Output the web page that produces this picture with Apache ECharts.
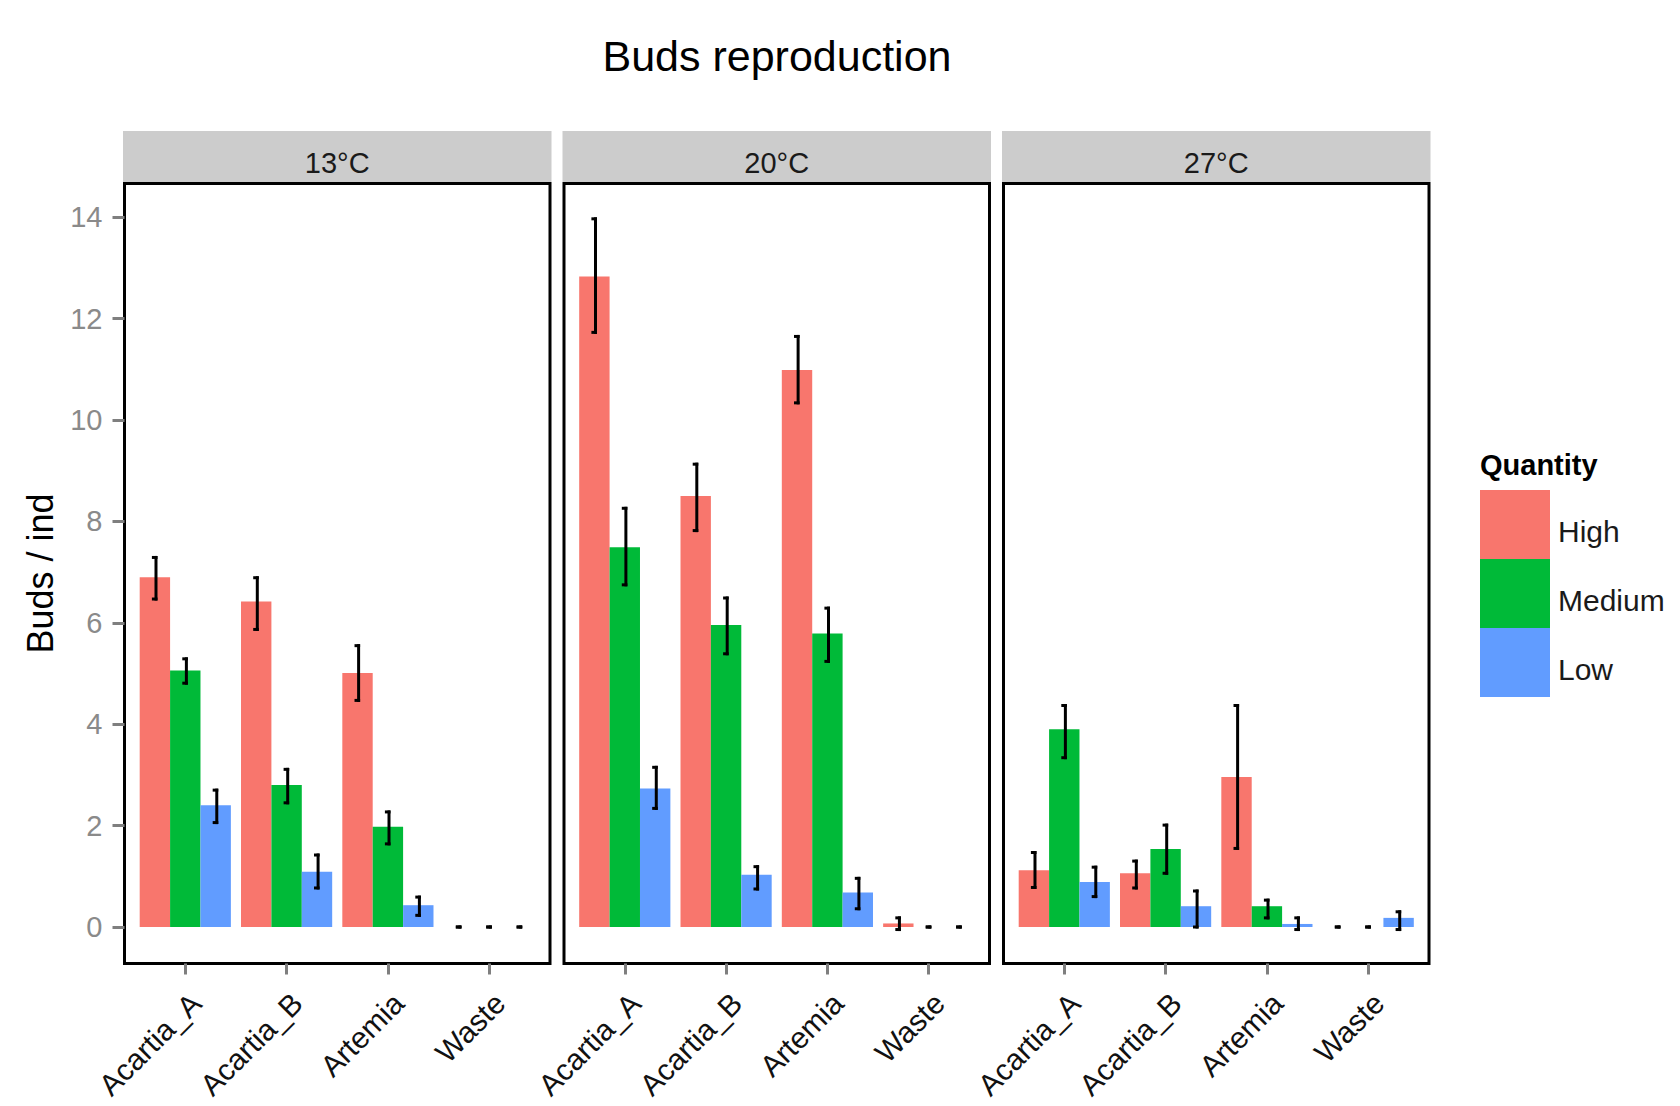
<!DOCTYPE html>
<html>
<head>
<meta charset="utf-8">
<title>Buds reproduction</title>
<script src="https://cdn.jsdelivr.net/npm/echarts@6/dist/echarts.min.js"></script>
<style>
  html, body { margin: 0; padding: 0; background: #fff; }
  #chart { width: 1680px; height: 1106px; }
</style>
</head>
<body>
<div id="chart"></div>
<script>
// Categories, facets and groups
const categories = ['Acartia_A', 'Acartia_B', 'Artemia', 'Waste'];
const temperatures = ['13°C', '20°C', '27°C'];
const quantities = ['High', 'Medium', 'Low'];
const yTicks = [0, 2, 4, 6, 8, 10, 12, 14];

// Mean buds per individual (Acartia_A, Acartia_B, Artemia, Waste)
const high13 = [6.90, 6.42, 5.01, 0];
const medium13 = [5.06, 2.80, 1.98, 0];
const low13 = [2.40, 1.09, 0.43, 0];
const high20 = [12.83, 8.50, 10.99, 0.07];
const medium20 = [7.49, 5.96, 5.79, 0];
const low20 = [2.73, 1.03, 0.68, 0];
const high27 = [1.12, 1.06, 2.96, 0];
const medium27 = [3.90, 1.54, 0.41, 0];
const low27 = [0.89, 0.41, 0.06, 0.18];

// Error bar bounds [lower, upper]
const highErr13 = [[6.47, 7.29], [5.87, 6.89], [4.47, 5.55], [0, 0]];
const mediumErr13 = [[4.81, 5.29], [2.45, 3.11], [1.64, 2.27], [0, 0]];
const lowErr13 = [[2.06, 2.70], [0.77, 1.42], [0.23, 0.59], [0, 0]];
const highErr20 = [[11.73, 13.97], [7.82, 9.13], [10.34, 11.65], [-0.05, 0.18]];
const mediumErr20 = [[6.75, 8.26], [5.39, 6.49], [5.24, 6.29], [0, 0]];
const lowErr20 = [[2.34, 3.15], [0.75, 1.19], [0.36, 0.96], [0, 0]];
const highErr27 = [[0.78, 1.47], [0.77, 1.30], [1.55, 4.37], [0, 0]];
const mediumErr27 = [[3.34, 4.37], [1.06, 2.01], [0.18, 0.53], [0, 0]];
const lowErr27 = [[0.60, 1.18], [0, 0.71], [-0.05, 0.18], [-0.05, 0.30]];

const colors = ['#F8766D', '#00BA38', '#619CFF'];
const FONT = "'Liberation Sans', Arial, sans-serif";

const panelMeans = [[high13, medium13, low13], [high20, medium20, low20], [high27, medium27, low27]];
const panelErrs = [[highErr13, mediumErr13, lowErr13], [highErr20, mediumErr20, lowErr20], [highErr27, mediumErr27, lowErr27]];

// Facet geometry
const panelLeft = [124.5, 564, 1003.5];
const panelWidth = 425.5;
const panelTop = 183.5;
const panelHeight = 780;
const yMin = -0.72, yMax = 14.667;
const unit = panelWidth / 4.2;          // discrete scale expanded by 0.6 on each side
const innerOffset = unit * 0.1;

function errorBarItem(params, api) {
  const cat = api.value(0), k = api.value(1), lo = api.value(2), hi = api.value(3);
  const band = api.size([1, 0])[0];
  const cx = api.coord([cat, 0])[0] + (k - 1) * band * 0.3;
  const yHi = api.coord([cat, hi])[1];
  const yLo = api.coord([cat, lo])[1];
  const sx = cx + 1.1;
  return {
    type: 'group',
    children: [
      { type: 'rect', shape: { x: sx - 1.5, y: yHi - 1.5, width: 3, height: yLo - yHi + 3 }, style: { fill: '#000' } },
      { type: 'rect', shape: { x: cx - 3, y: yHi - 1.5, width: 5.6, height: 3 }, style: { fill: '#000' } },
      { type: 'rect', shape: { x: cx - 3, y: yLo - 1.5, width: 5.6, height: 3 }, style: { fill: '#000' } }
    ]
  };
}

const grid = [], xAxis = [], yAxis = [], series = [], graphic = [];

temperatures.forEach((t, p) => {
  // outer frame (panel border)
  grid.push({ left: panelLeft[p], top: panelTop, width: panelWidth, height: panelHeight,
    show: true, borderColor: '#000', borderWidth: 3, backgroundColor: '#fff', containLabel: false });
  xAxis.push({ gridIndex: p, type: 'value', min: 0, max: 1, show: false });
  yAxis.push({
    gridIndex: p, type: 'value', min: yMin, max: yMax, show: p === 0,
    name: p === 0 ? 'Buds / ind' : '', nameLocation: 'middle', nameRotate: 90, nameGap: 66,
    nameTextStyle: { fontSize: 36, color: '#000', fontFamily: FONT },
    axisLine: { show: false, onZero: false },
    splitLine: { show: false },
    axisTick: { show: true, length: 12, customValues: yTicks, lineStyle: { color: '#7f7f7f', width: 3 } },
    axisLabel: { show: true, customValues: yTicks, margin: 22, fontSize: 29, color: '#8a8a8a', fontFamily: FONT }
  });
});

temperatures.forEach((t, p) => {
  const gi = 3 + p;
  grid.push({ left: panelLeft[p] + innerOffset, top: panelTop, width: unit * 4, height: panelHeight, containLabel: false });
  xAxis.push({
    gridIndex: gi, type: 'category', data: categories, position: 'bottom',
    axisLine: { show: false, onZero: false },
    axisTick: { show: true, alignWithLabel: true, length: 11, lineStyle: { color: '#7f7f7f', width: 3 } },
    axisLabel: { rotate: 45, align: 'right', verticalAlign: 'top', margin: 24, fontSize: 30, color: '#111', fontFamily: FONT, interval: 0 },
    splitLine: { show: false }
  });
  yAxis.push({ gridIndex: gi, type: 'value', min: yMin, max: yMax, show: false, splitLine: { show: false } });

  quantities.forEach((q, k) => {
    series.push({
      type: 'bar', name: q, xAxisIndex: gi, yAxisIndex: gi,
      data: panelMeans[p][k], barCategoryGap: '10%', barGap: '0%',
      itemStyle: { color: colors[k] }, animation: false, z: 2
    });
  });

  const errData = [];
  quantities.forEach((q, k) => {
    panelErrs[p][k].forEach((b, i) => errData.push([i, k, b[0], b[1]]));
  });
  series.push({
    type: 'custom', name: 'se', xAxisIndex: gi, yAxisIndex: gi, data: errData,
    renderItem: errorBarItem, encode: { x: 0, y: [2, 3] }, clip: false, z: 3, animation: false, silent: true
  });

  // facet strip
  graphic.push({ type: 'rect', left: panelLeft[p] - 1.5, top: 131, shape: { width: panelWidth + 3, height: 51 },
    style: { fill: '#cccccc' }, z: 0 });
  graphic.push({ type: 'text', x: panelLeft[p] + panelWidth / 2, y: 163,
    style: { text: t, font: '29px ' + FONT, fill: '#1a1a1a', textAlign: 'center', textVerticalAlign: 'middle' } });
});

// legend title
graphic.push({ type: 'text', x: 1480, y: 465,
  style: { text: 'Quantity', font: 'bold 29px ' + FONT, fill: '#000', textAlign: 'left', textVerticalAlign: 'middle' } });

const option = {
  backgroundColor: '#fff',
  animation: false,
  title: {
    text: 'Buds reproduction', left: 772, top: 29, textAlign: 'center',
    textStyle: { fontSize: 43, fontWeight: 'normal', color: '#000', fontFamily: FONT }
  },
  legend: {
    data: quantities, orient: 'vertical', left: 1480, top: 490, padding: 0,
    icon: 'rect', itemWidth: 70, itemHeight: 69, itemGap: 0,
    formatter: name => '{t|' + name + '}',
    textStyle: {
      fontSize: 30, color: '#1a1a1a', fontFamily: FONT,
      rich: { t: { fontSize: 30, color: '#1a1a1a', fontFamily: FONT, padding: [13, 0, 0, 3] } }
    }
  },
  grid, xAxis, yAxis, series, graphic
};

const chart = echarts.init(document.getElementById('chart'), null, { renderer: 'svg' });
chart.setOption(option);
</script>
</body>
</html>
